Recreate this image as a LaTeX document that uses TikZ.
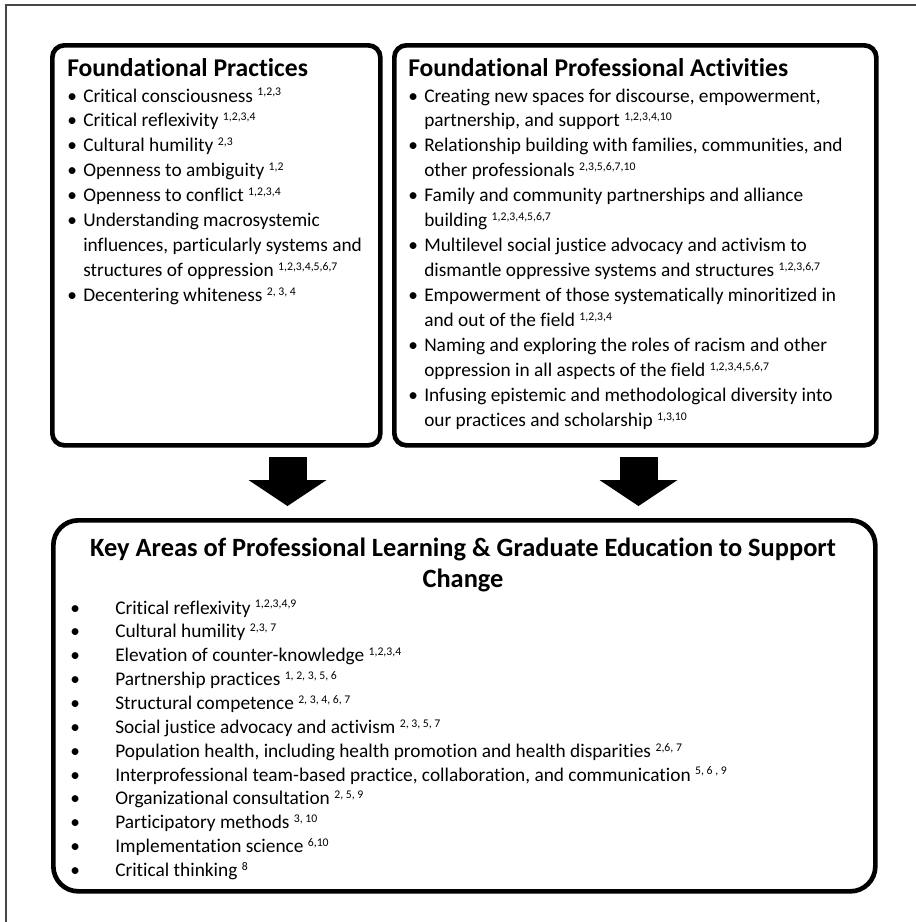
\documentclass[tikz,border=0pt]{standalone}
\usepackage{fontspec}
\setmainfont{Carlito}[Ligatures=CommonOff]
\usetikzlibrary{arrows.meta}
\definecolor{framegray}{RGB}{70,70,70}
\newcommand{\refnum}[1]{\raisebox{4.6pt}{\fontsize{8.8}{9}\selectfont #1}}
\newcommand{\topfont}{\fontsize{14.5}{18.7}\selectfont}
\newcommand{\keyfont}{\fontsize{14.5}{17.9}\selectfont}

\begin{document}
\begin{tikzpicture}[x=0.75pt,y=0.75pt,yscale=-1,xscale=1,
  panel/.style={draw, line width=3.5pt, rounded corners=9pt, inner sep=0pt, anchor=north west},
  heading/.style={font=\fontsize{19.2}{24}\selectfont\bfseries, inner sep=0pt},
  itemlist/.style={inner sep=0pt, anchor=base west, align=left},
  blockarrow/.style={line width=28.5pt, -{Triangle[length=19.5pt, width=58.5pt, line width=0pt]}}]
\useasboundingbox (0,0) rectangle (916,922);

%Shape: Frame
\draw [framegray, line width=1.4pt] (6,5) rectangle (930,935) ;

%Shape: Rounded Rectangle [id:fpbox]
\node (fpbox) [panel, minimum width=246pt, minimum height=300pt] at (50,43) {};
%Shape: Rounded Rectangle [id:fabox]
\node (fabox) [panel, minimum width=361.5pt, minimum height=300pt] at (392,43) {};
%Shape: Rounded Rectangle [id:kabox]
\node (kabox) [panel, rounded corners=18.75pt, minimum width=616.5pt, minimum height=278.25pt] at (51,518) {};

%Block Arrows
\coordinate (fpout) at (287.5,457);
\coordinate (fpin) at (287.5,506);
\coordinate (faout) at (638.5,457);
\coordinate (fain) at (638.5,506);
\draw [blockarrow] (fpout) -- (fpin) ;
\draw [blockarrow] (faout) -- (fain) ;

% Text Node
\draw (67,76) node (fptitle) [heading, anchor=base west] {Foundational Practices};
% Text Node
\draw (67,102) node (fplist) [itemlist, font=\topfont] {\begin{tabular}[t]{@{}p{12pt}@{}l@{}}
\textbullet & Critical consciousness \refnum{1,2,3}\\
\textbullet & Critical reflexivity \refnum{1,2,3,4}\\
\textbullet & Cultural humility \refnum{2,3}\\
\textbullet & Openness to ambiguity \refnum{1,2}\\
\textbullet & Openness to conflict \refnum{1,2,3,4}\\
\textbullet & Understanding macrosystemic\\
 & influences, particularly systems and\\
 & structures of oppression \refnum{1,2,3,4,5,6,7}\\
\textbullet & Decentering whiteness \refnum{2, 3, 4}
\end{tabular}};

% Text Node
\draw (408,76) node (fatitle) [heading, anchor=base west] {Foundational Professional Activities};
% Text Node
\draw (408,102) node (falist) [itemlist, font=\topfont] {\begin{tabular}[t]{@{}p{12pt}@{}l@{}}
\textbullet & Creating new spaces for discourse, empowerment,\\
 & partnership, and support \refnum{1,2,3,4,10}\\
\textbullet & Relationship building with families, communities, and\\
 & other professionals \refnum{2,3,5,6,7,10}\\
\textbullet & Family and community partnerships and alliance\\
 & building \refnum{1,2,3,4,5,6,7}\\
\textbullet & Multilevel social justice advocacy and activism to\\
 & dismantle oppressive systems and structures \refnum{1,2,3,6,7}\\
\textbullet & Empowerment of those systematically minoritized in\\
 & and out of the field \refnum{1,2,3,4}\\
\textbullet & Naming and exploring the roles of racism and other\\
 & oppression in all aspects of the field \refnum{1,2,3,4,5,6,7}\\
\textbullet & Infusing epistemic and methodological diversity into\\
 & our practices and scholarship \refnum{1,3,10}
\end{tabular}};

% Text Node
\draw (463,556) node (katitle) [heading, font=\fontsize{19.8}{23.5}\selectfont\bfseries, anchor=base] {\begin{tabular}[t]{@{}c@{}}
Key Areas of Professional Learning \& Graduate Education to Support\\
Change
\end{tabular}};
% Text Node
\draw (70,614) node (kalist) [itemlist, font=\keyfont] {\begin{tabular}[t]{@{}p{33.75pt}@{}l@{}}
\textbullet & Critical reflexivity \refnum{1,2,3,4,9}\\
\textbullet & Cultural humility \refnum{2,3, 7}\\
\textbullet & Elevation of counter-knowledge \refnum{1,2,3,4}\\
\textbullet & Partnership practices \refnum{1, 2, 3, 5, 6}\\
\textbullet & Structural competence \refnum{2, 3, 4, 6, 7}\\
\textbullet & Social justice advocacy and activism \refnum{2, 3, 5, 7}\\
\textbullet & Population health, including health promotion and health disparities \refnum{2,6, 7}\\
\textbullet & Interprofessional team-based practice, collaboration, and communication \refnum{5, 6 , 9}\\
\textbullet & Organizational consultation \refnum{2, 5, 9}\\
\textbullet & Participatory methods \refnum{3, 10}\\
\textbullet & Implementation science \refnum{6,10}\\
\textbullet & Critical thinking \refnum{8}
\end{tabular}};
\end{tikzpicture}
\end{document}
